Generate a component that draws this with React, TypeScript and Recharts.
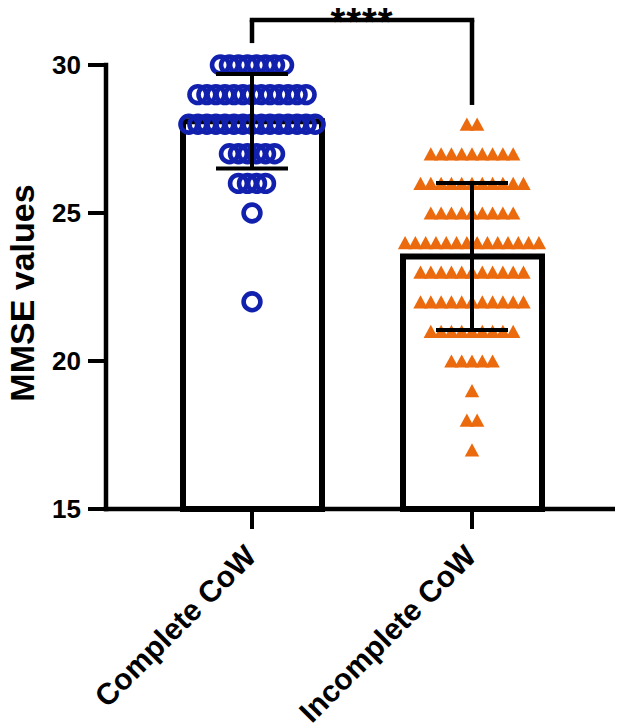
import React from 'react';
import {
  ComposedChart,
  Bar,
  Scatter,
  XAxis,
  YAxis,
  ErrorBar,
  ReferenceLine,
  ReferenceDot,
} from 'recharts';

const FONT = '"Liberation Sans", Arial, Helvetica, sans-serif';
const BLUE = '#1220ae';
const ORANGE = '#ec6a0e';

// categories and group summaries
const categories = ['Complete CoW', 'Incomplete CoW'];
const means = [28.1, 23.53];
const sds = [1.6, 2.48];

// individual MMSE values: value levels and how many subjects sit at each level
const completeValues = [30, 29, 28, 27, 26, 25, 22];
const completeCounts = [8, 13, 15, 6, 4, 1, 1];
const incompleteValues = [28, 27, 26, 25, 24, 23, 22, 21, 20, 19, 18, 17];
const incompleteCounts = [2, 9, 11, 9, 14, 11, 11, 9, 5, 1, 2, 1];

const yTicks = [15, 20, 25, 30];

// significance bracket levels (y units)
const bracketTop = 31.52;
const bracketLeftEnd = 30.74;
const bracketRightEnd = 28.65;
const sigText = '****';

const barData = categories.map((name, i) => ({ name, y: means[i], err: sds[i] }));
const errData = categories.map((name, i) => ({ x: i, y: means[i], err: sds[i] }));

// beeswarm layout: spread equal values horizontally around the group centre
function swarm(values: number[], counts: number[], center: number, step: number) {
  const pts: { x: number; y: number }[] = [];
  values.forEach((v, r) => {
    const n = counts[r];
    for (let i = 0; i < n; i++) {
      pts.push({ x: center + (i - (n - 1) / 2) * step, y: v });
    }
  });
  return pts;
}

const completePoints = swarm(completeValues, completeCounts, 0, 0.041);
const incompletePoints = swarm(incompleteValues, incompleteCounts, 1, 0.0468);

const CircleShape = (props: any) => {
  const { cx, cy } = props;
  if (cx == null || cy == null) return <g />;
  return <circle cx={cx} cy={cy} r={8.4} fill="none" stroke={BLUE} strokeWidth={4.6} />;
};

const TriShape = (props: any) => {
  const { cx, cy } = props;
  if (cx == null || cy == null) return <g />;
  const hw = 7.2;
  const hh = 6.6;
  return (
    <polygon
      points={`${cx - hw},${cy + hh} ${cx + hw},${cy + hh} ${cx},${cy - hh}`}
      fill={ORANGE}
      stroke="none"
    />
  );
};

const EmptyShape = () => <g />;

const XTick = (props: any) => {
  const { x, y, payload } = props;
  const ax = x + 6;
  const ay = y + 29;
  return (
    <text
      x={ax}
      y={ay}
      textAnchor="end"
      transform={`rotate(-45, ${ax}, ${ay})`}
      fontFamily={FONT}
      fontWeight={700}
      fontSize={30}
      fill="#000"
    >
      {payload.value}
    </text>
  );
};

const YLabel = (props: any) => {
  const vb = props.viewBox || { x: 0, y: 0, width: 0, height: 0 };
  const x = vb.x + 22;
  const y = vb.y + vb.height / 2 + 6;
  return (
    <text
      x={x}
      y={y}
      textAnchor="middle"
      dominantBaseline="central"
      transform={`rotate(-90, ${x}, ${y})`}
      fontFamily={FONT}
      fontWeight={700}
      fontSize={34}
      fill="#000"
    >
      MMSE values
    </text>
  );
};

const StarsLabel = (props: any) => {
  const vb = props.viewBox || { x: 0, y: 0, width: 0, height: 0 };
  const cx = vb.x + (vb.width || 0) / 2;
  const cy = vb.y + (vb.height || 0) / 2;
  return (
    <text
      x={cx}
      y={cy + 15}
      textAnchor="middle"
      fontFamily={FONT}
      fontWeight={700}
      fontSize={38}
      letterSpacing={1}
      fill="#000"
    >
      {sigText}
    </text>
  );
};

export default function App() {
  return (
    <div style={{ width: 623, height: 728, marginTop: -8, marginLeft: -8 }}>
      <ComposedChart
        width={623}
        height={728}
        data={barData}
        margin={{ top: 65, right: 9, bottom: 0, left: 0 }}
      >
        <XAxis
          xAxisId="cat"
          dataKey="name"
          type="category"
          padding={{ left: 36, right: 32 }}
          height={219}
          interval={0}
          tickSize={20}
          tickMargin={0}
          axisLine={{ stroke: '#000', strokeWidth: 4.5, strokeLinecap: 'square' }}
          tickLine={{ stroke: '#000', strokeWidth: 4 }}
          tick={(p: any) => <XTick {...p} />}
        />
        <XAxis
          xAxisId="num"
          dataKey="x"
          type="number"
          domain={[-0.5, 1.5]}
          padding={{ left: 36, right: 32 }}
          hide
        />
        <YAxis
          dataKey="y"
          type="number"
          domain={[15, 30]}
          ticks={yTicks}
          interval={0}
          width={106}
          tickSize={18}
          tickMargin={7}
          axisLine={{ stroke: '#000', strokeWidth: 4.5, strokeLinecap: 'square' }}
          tickLine={{ stroke: '#000', strokeWidth: 4 }}
          tick={{ fill: '#000', fontSize: 26, fontWeight: 700, fontFamily: FONT }}
          label={{ content: YLabel }}
        />
        <Bar
          xAxisId="cat"
          dataKey="y"
          barSize={139}
          fill="#fff"
          stroke="#000"
          strokeWidth={6}
          isAnimationActive={false}
        />
        <Scatter
          xAxisId="num"
          data={completePoints}
          shape={CircleShape}
          isAnimationActive={false}
        />
        <Scatter
          xAxisId="num"
          data={incompletePoints}
          shape={TriShape}
          isAnimationActive={false}
        />
        <Scatter
          xAxisId="num"
          data={errData}
          shape={EmptyShape}
          isAnimationActive={false}
          zIndex={700}
        >
          <ErrorBar
            dataKey="err"
            direction="y"
            width={36}
            stroke="#000"
            strokeWidth={4}
            zIndex={700}
          />
        </Scatter>
        <ReferenceLine
          xAxisId="num"
          segment={[{ x: 0, y: bracketLeftEnd }, { x: 0, y: bracketTop }]}
          ifOverflow="visible"
          stroke="#000"
          strokeWidth={4.5}
        />
        <ReferenceLine
          xAxisId="num"
          segment={[{ x: 1, y: bracketRightEnd }, { x: 1, y: bracketTop }]}
          ifOverflow="visible"
          stroke="#000"
          strokeWidth={4.5}
        />
        <ReferenceLine
          xAxisId="num"
          segment={[{ x: 0, y: bracketTop }, { x: 1, y: bracketTop }]}
          ifOverflow="visible"
          stroke="#000"
          strokeWidth={4.5}
          strokeLinecap="square"
        />
        <ReferenceDot
          xAxisId="num"
          x={0.5}
          y={bracketTop}
          r={0}
          fill="none"
          stroke="none"
          ifOverflow="visible"
          label={{ content: StarsLabel }}
        />
      </ComposedChart>
    </div>
  );
}
